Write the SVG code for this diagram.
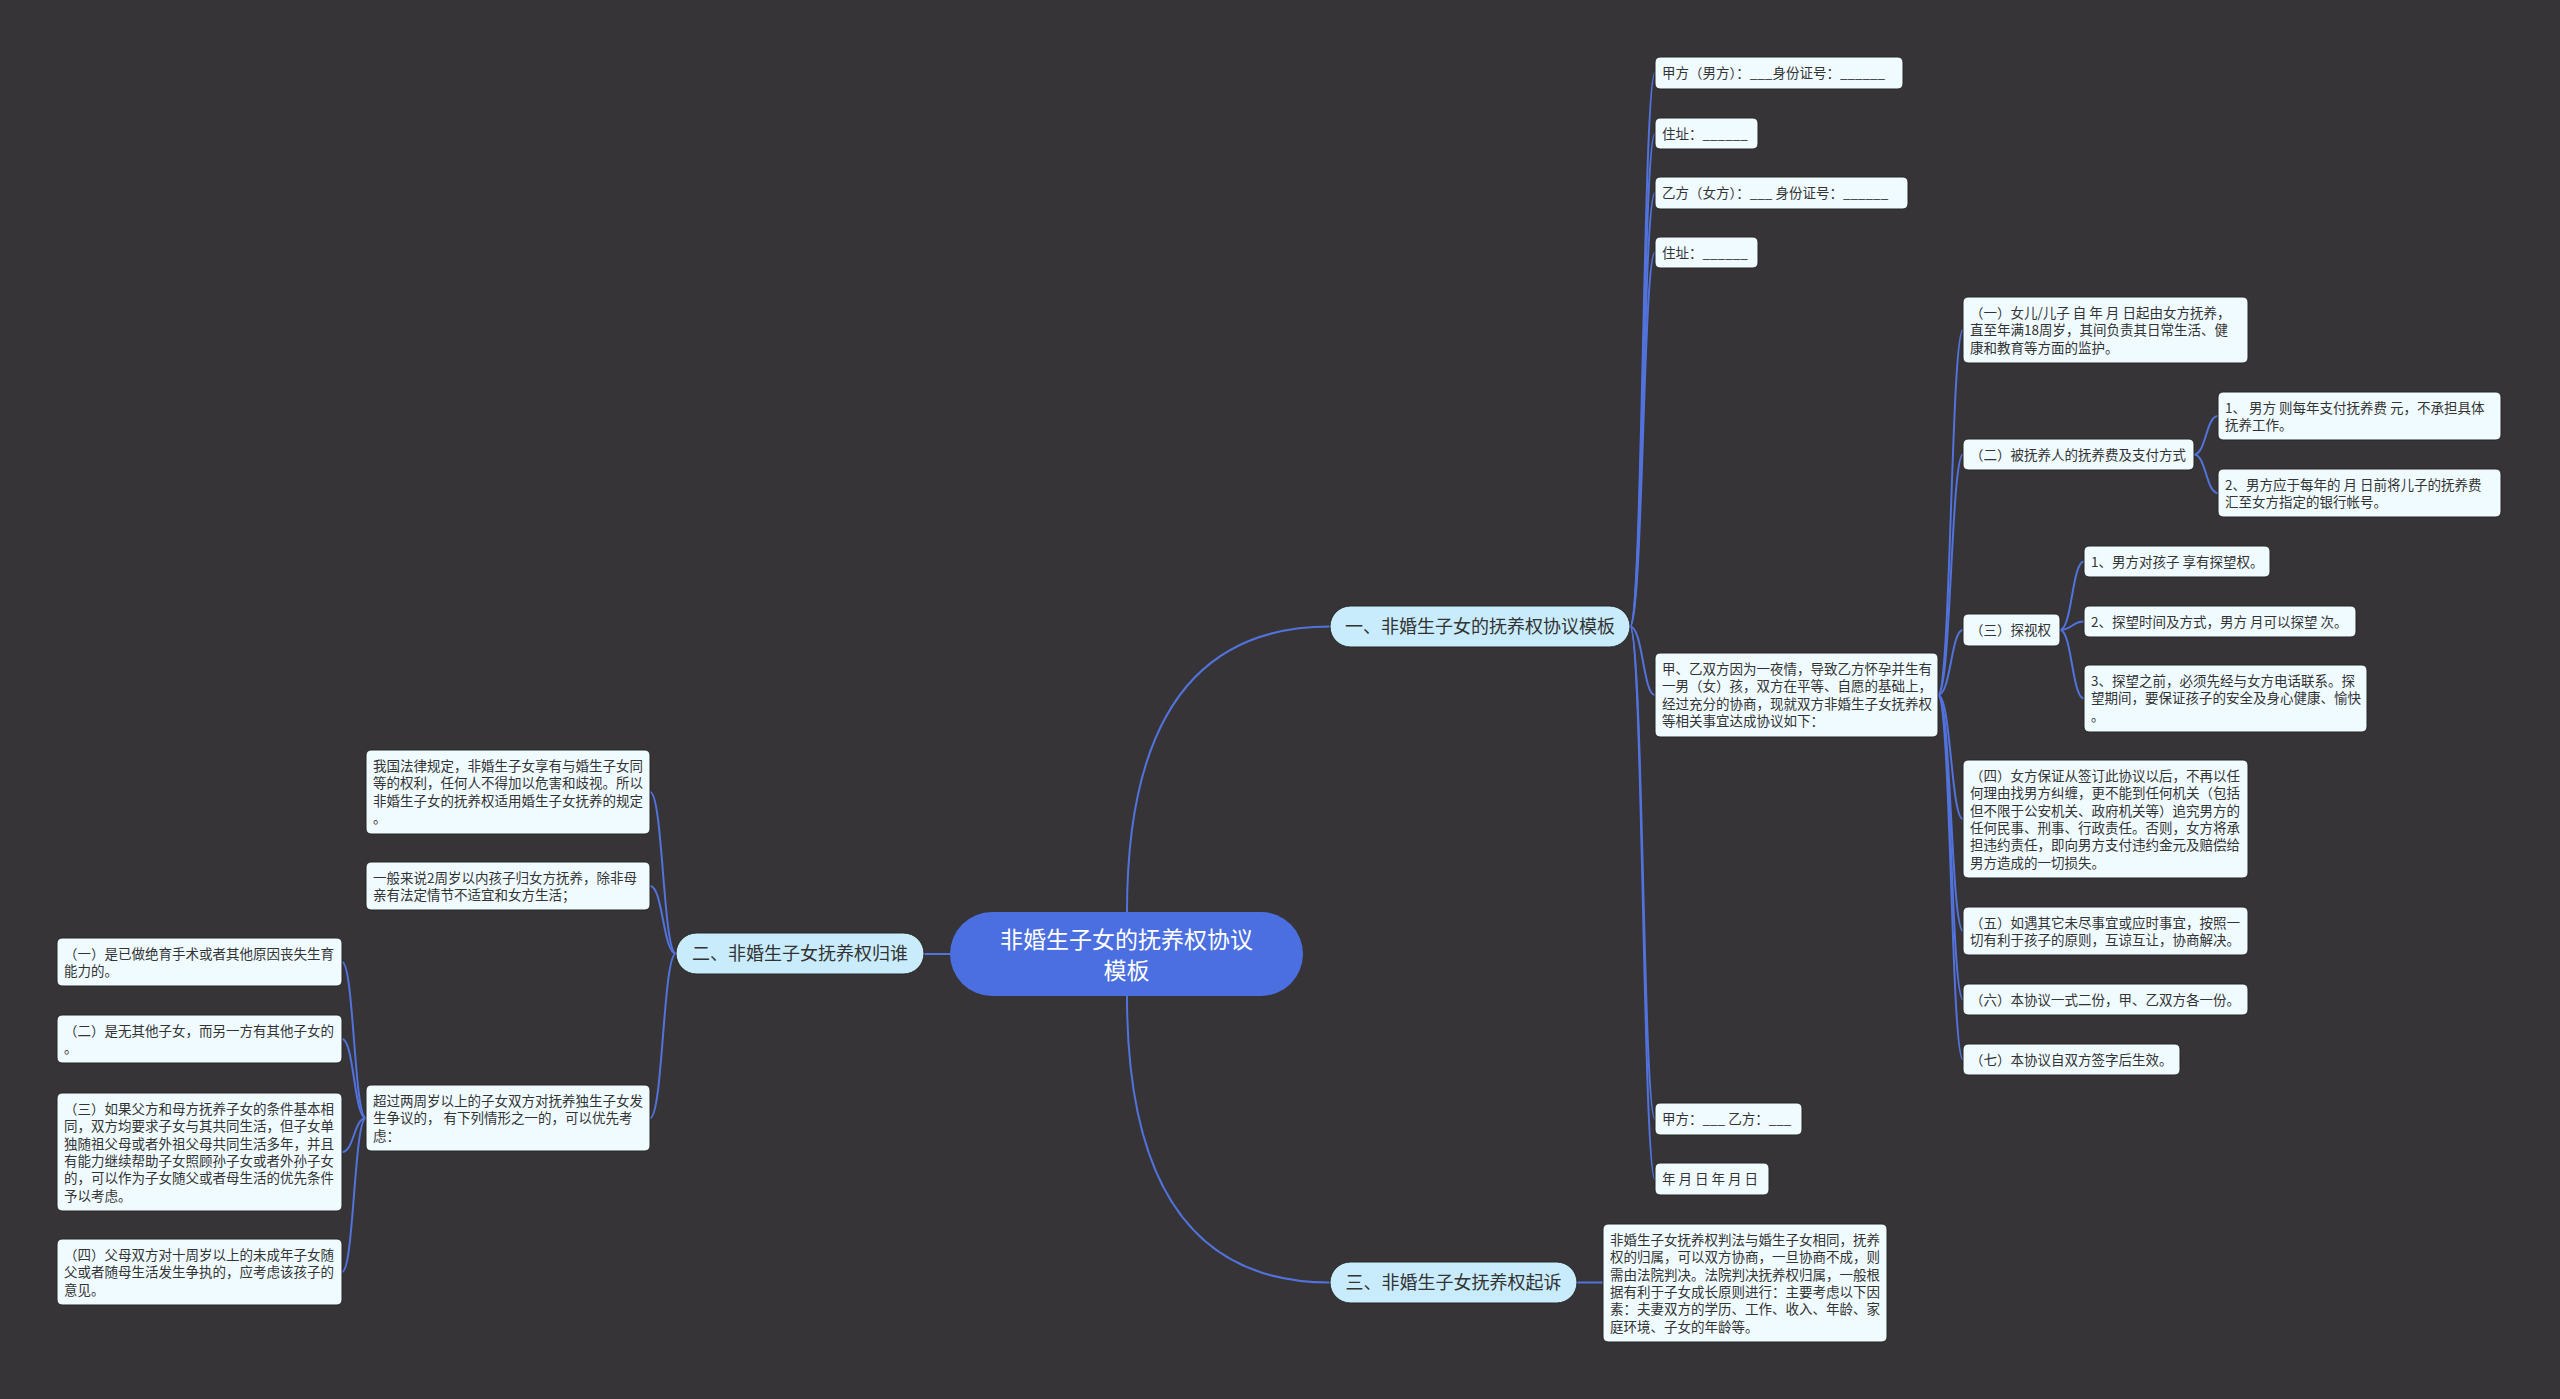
<svg xmlns="http://www.w3.org/2000/svg" width="2560" height="1399" viewBox="0 0 2560 1399">
<style>
.bg{fill:#363436}
.lf rect{fill:#f0fbff;stroke:#262626;stroke-width:1}
.lf text{font-family:"Noto Sans CJK SC","Noto Sans",sans-serif;font-size:13.5px;fill:#333}
.br rect{fill:#c9ecfc;stroke:#262626;stroke-width:1}
.br text{font-family:"Noto Sans CJK SC","Noto Sans",sans-serif;font-size:18px;fill:#333;text-anchor:middle}
.ct rect{fill:#4b6fe0}
.ct text{font-family:"Noto Sans CJK SC","Noto Sans",sans-serif;font-size:23px;fill:#fff;text-anchor:middle}
#links path{fill:none;stroke:#5272dc;stroke-width:2}
</style>
<rect class="bg" x="0" y="0" width="2560" height="1399"/>
<g id="links">
<path d="M950,954 L924,954"/>
<path d="M1127,912 Q1127,626.5 1330,626.5"/>
<path d="M1127,996 Q1127,1282.5 1330,1282.5"/>
<path d="M1577,1282.5 L1603,1282.5"/>
<path d="M1630,626.5 C1643,626.5 1643,73 1655,73"/>
<path d="M1630,626.5 C1643,626.5 1643,133.5 1655,133.5"/>
<path d="M1630,626.5 C1643,626.5 1643,193 1655,193"/>
<path d="M1630,626.5 C1643,626.5 1643,252.5 1655,252.5"/>
<path d="M1630,626.5 C1643,626.5 1643,695 1655,695"/>
<path d="M1630,626.5 C1643,626.5 1643,1119 1655,1119"/>
<path d="M1630,626.5 C1643,626.5 1643,1179 1655,1179"/>
<path d="M1938,695 C1951,695 1951,330 1963,330"/>
<path d="M1938,695 C1951,695 1951,454.5 1963,454.5"/>
<path d="M1938,695 C1951,695 1951,630 1963,630"/>
<path d="M1938,695 C1951,695 1951,819 1963,819"/>
<path d="M1938,695 C1951,695 1951,931 1963,931"/>
<path d="M1938,695 C1951,695 1951,999.5 1963,999.5"/>
<path d="M1938,695 C1951,695 1951,1059.5 1963,1059.5"/>
<path d="M2194,454.5 C2206,454.5 2206,416 2218,416"/>
<path d="M2194,454.5 C2206,454.5 2206,493 2218,493"/>
<path d="M2060,630 C2072,630 2072,561.5 2084,561.5"/>
<path d="M2060,630 C2072,630 2072,621.5 2084,621.5"/>
<path d="M2060,630 C2072,630 2072,698.5 2084,698.5"/>
<path d="M676,953.5 C663,953.5 663,792 650,792"/>
<path d="M676,953.5 C663,953.5 663,886 650,886"/>
<path d="M676,953.5 C663,953.5 663,1118 650,1118"/>
<path d="M366,1118 C354,1118 354,962 342,962"/>
<path d="M366,1118 C354,1118 354,1039 342,1039"/>
<path d="M366,1118 C354,1118 354,1152 342,1152"/>
<path d="M366,1118 C354,1118 354,1272 342,1272"/>
</g>
<g id="center" class="ct"><rect x="950" y="912" width="353" height="84" rx="42"/><text x="1126.5" y="948">非婚生子女的抚养权协议</text><text x="1126.5" y="979">模板</text></g>
<g id="b1" class="br"><rect x="1330" y="606" width="300" height="41" rx="20.5"/><text x="1480" y="633">一、非婚生子女的抚养权协议模板</text></g>
<g id="b2" class="br"><rect x="676" y="933" width="248" height="41" rx="20.5"/><text x="800" y="960">二、非婚生子女抚养权归谁</text></g>
<g id="b3" class="br"><rect x="1330" y="1262" width="247" height="41" rx="20.5"/><text x="1453.5" y="1289">三、非婚生子女抚养权起诉</text></g>
<g id="n1" class="lf"><rect x="1655" y="57" width="248" height="32" rx="5"/><text x="1662" y="78">甲方（男方）：___身份证号：______</text></g>
<g id="n2" class="lf"><rect x="1655" y="118" width="103" height="31" rx="5"/><text x="1662" y="138.5">住址：______</text></g>
<g id="n3" class="lf"><rect x="1655" y="177" width="253" height="32" rx="5"/><text x="1662" y="198">乙方（女方）：___ 身份证号：______</text></g>
<g id="n4" class="lf"><rect x="1655" y="237" width="103" height="31" rx="5"/><text x="1662" y="257.5">住址：______</text></g>
<g id="n5" class="lf"><rect x="1655" y="653" width="283" height="84" rx="5"/><text x="1662" y="674">甲、乙双方因为一夜情，导致乙方怀孕并生有</text><text x="1662" y="691.3">一男（女）孩，双方在平等、自愿的基础上，</text><text x="1662" y="708.6">经过充分的协商，现就双方非婚生子女抚养权</text><text x="1662" y="725.9">等相关事宜达成协议如下：</text></g>
<g id="n6" class="lf"><rect x="1655" y="1103" width="147" height="32" rx="5"/><text x="1662" y="1124">甲方：___ 乙方：___</text></g>
<g id="n7" class="lf"><rect x="1655" y="1163" width="114" height="32" rx="5"/><text x="1662" y="1184">年 月 日 年 月 日</text></g>
<g id="n5a" class="lf"><rect x="1963" y="297" width="285" height="66" rx="5"/><text x="1970" y="318">（一）女儿/儿子 自 年 月 日起由女方抚养，</text><text x="1970" y="335.3">直至年满18周岁，其间负责其日常生活、健</text><text x="1970" y="352.6">康和教育等方面的监护。</text></g>
<g id="n5b" class="lf"><rect x="1963" y="439" width="231" height="31" rx="5"/><text x="1970" y="459.5">（二）被抚养人的抚养费及支付方式</text></g>
<g id="n5b1" class="lf"><rect x="2218" y="392" width="283" height="48" rx="5"/><text x="2225" y="413">1、 男方 则每年支付抚养费 元，不承担具体</text><text x="2225" y="430.3">抚养工作。</text></g>
<g id="n5b2" class="lf"><rect x="2218" y="469" width="283" height="48" rx="5"/><text x="2225" y="490">2、男方应于每年的 月 日前将儿子的抚养费</text><text x="2225" y="507.3">汇至女方指定的银行帐号。</text></g>
<g id="n5c" class="lf"><rect x="1963" y="614" width="97" height="32" rx="5"/><text x="1970" y="635">（三）探视权</text></g>
<g id="n5c1" class="lf"><rect x="2084" y="546" width="186" height="31" rx="5"/><text x="2091" y="566.5">1、男方对孩子 享有探望权。</text></g>
<g id="n5c2" class="lf"><rect x="2084" y="606" width="272" height="31" rx="5"/><text x="2091" y="626.5">2、探望时间及方式，男方 月可以探望 次。</text></g>
<g id="n5c3" class="lf"><rect x="2084" y="665" width="283" height="67" rx="5"/><text x="2091" y="686">3、探望之前，必须先经与女方电话联系。探</text><text x="2091" y="703.3">望期间，要保证孩子的安全及身心健康、愉快</text><text x="2091" y="720.6">。</text></g>
<g id="n5d" class="lf"><rect x="1963" y="760" width="285" height="118" rx="5"/><text x="1970" y="781">（四）女方保证从签订此协议以后，不再以任</text><text x="1970" y="798.3">何理由找男方纠缠，更不能到任何机关（包括</text><text x="1970" y="815.6">但不限于公安机关、政府机关等）追究男方的</text><text x="1970" y="832.9">任何民事、刑事、行政责任。否则，女方将承</text><text x="1970" y="850.2">担违约责任，即向男方支付违约金元及赔偿给</text><text x="1970" y="867.5">男方造成的一切损失。</text></g>
<g id="n5e" class="lf"><rect x="1963" y="907" width="285" height="48" rx="5"/><text x="1970" y="928">（五）如遇其它未尽事宜或应时事宜，按照一</text><text x="1970" y="945.3">切有利于孩子的原则，互谅互让，协商解决。</text></g>
<g id="n5f" class="lf"><rect x="1963" y="984" width="285" height="31" rx="5"/><text x="1970" y="1004.5">（六）本协议一式二份，甲、乙双方各一份。</text></g>
<g id="n5g" class="lf"><rect x="1963" y="1044" width="217" height="31" rx="5"/><text x="1970" y="1064.5">（七）本协议自双方签字后生效。</text></g>
<g id="l1" class="lf"><rect x="366" y="750" width="284" height="84" rx="5"/><text x="373" y="771">我国法律规定，非婚生子女享有与婚生子女同</text><text x="373" y="788.3">等的权利，任何人不得加以危害和歧视。所以</text><text x="373" y="805.6">非婚生子女的抚养权适用婚生子女抚养的规定</text><text x="373" y="822.9">。</text></g>
<g id="l2" class="lf"><rect x="366" y="862" width="284" height="48" rx="5"/><text x="373" y="883">一般来说2周岁以内孩子归女方抚养，除非母</text><text x="373" y="900.3">亲有法定情节不适宜和女方生活；</text></g>
<g id="l3" class="lf"><rect x="366" y="1085" width="284" height="66" rx="5"/><text x="373" y="1106">超过两周岁以上的子女双方对抚养独生子女发</text><text x="373" y="1123.3">生争议的， 有下列情形之一的，可以优先考</text><text x="373" y="1140.6">虑：</text></g>
<g id="l3a" class="lf"><rect x="57" y="938" width="285" height="48" rx="5"/><text x="64" y="959">（一）是已做绝育手术或者其他原因丧失生育</text><text x="64" y="976.3">能力的。</text></g>
<g id="l3b" class="lf"><rect x="57" y="1015" width="285" height="48" rx="5"/><text x="64" y="1036">（二）是无其他子女，而另一方有其他子女的</text><text x="64" y="1053.3">。</text></g>
<g id="l3c" class="lf"><rect x="57" y="1093" width="285" height="118" rx="5"/><text x="64" y="1114">（三）如果父方和母方抚养子女的条件基本相</text><text x="64" y="1131.3">同，双方均要求子女与其共同生活，但子女单</text><text x="64" y="1148.6">独随祖父母或者外祖父母共同生活多年，并且</text><text x="64" y="1165.9">有能力继续帮助子女照顾孙子女或者外孙子女</text><text x="64" y="1183.2">的，可以作为子女随父或者母生活的优先条件</text><text x="64" y="1200.5">予以考虑。</text></g>
<g id="l3d" class="lf"><rect x="57" y="1239" width="285" height="66" rx="5"/><text x="64" y="1260">（四）父母双方对十周岁以上的未成年子女随</text><text x="64" y="1277.3">父或者随母生活发生争执的，应考虑该孩子的</text><text x="64" y="1294.6">意见。</text></g>
<g id="r1" class="lf"><rect x="1603" y="1224" width="284" height="118" rx="5"/><text x="1610" y="1245">非婚生子女抚养权判法与婚生子女相同，抚养</text><text x="1610" y="1262.3">权的归属，可以双方协商，一旦协商不成，则</text><text x="1610" y="1279.6">需由法院判决。法院判决抚养权归属，一般根</text><text x="1610" y="1296.9">据有利于子女成长原则进行：主要考虑以下因</text><text x="1610" y="1314.2">素：夫妻双方的学历、工作、收入、年龄、家</text><text x="1610" y="1331.5">庭环境、子女的年龄等。</text></g>
</svg>
